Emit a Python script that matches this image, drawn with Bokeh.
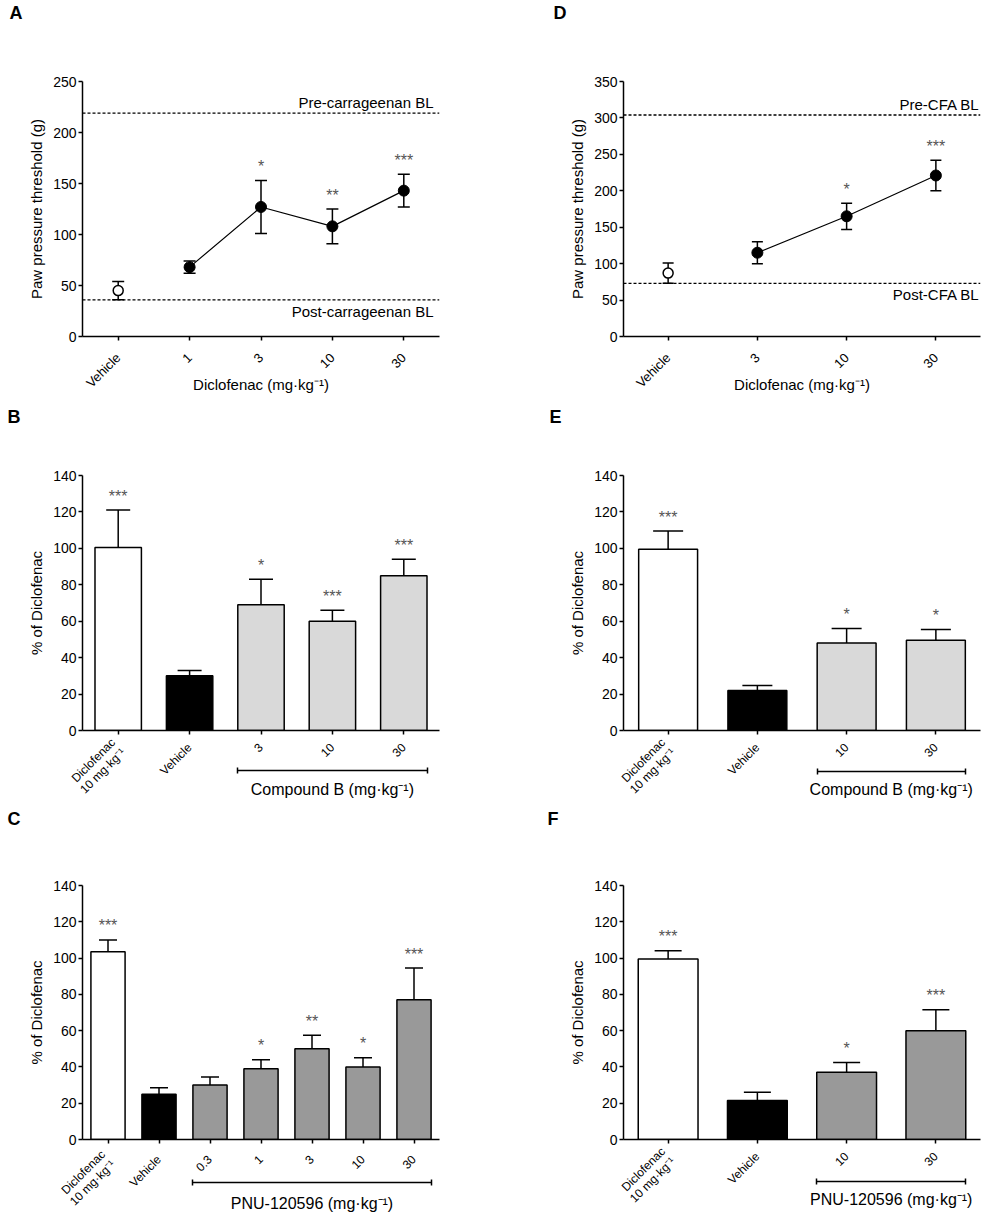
import math
from bokeh.plotting import figure
from bokeh.models import (Range1d, FixedTicker, Whisker, TeeHead, Span, LinearAxis,
                          ColumnDataSource)
from bokeh.layouts import column, row
from bokeh.embed import file_html
from bokeh.resources import INLINE
from bokeh.core.properties import value

FONT = "Liberation Sans"

# ---------------- DATA ----------------
A_labels = ["Vehicle", "1", "3", "10", "30"]
A_mean = [45, 68, 127, 108, 143]
A_sem = [9, 6, 26, 17, 16]
A_sig = ["", "", "*", "**", "***"]
A_pre_bl = 219
A_post_bl = 36

D_labels = ["Vehicle", "3", "10", "30"]
D_mean = [87, 115, 165, 221]
D_sem = [14, 15, 18, 21]
D_sig = ["", "", "*", "***"]
D_pre_bl = 304
D_post_bl = 73

B_labels = ["Diclofenac\n10 mg·kg⁻¹", "Vehicle", "3", "10", "30"]
B_mean = [100.5, 30, 69, 60, 85]
B_sem = [20.5, 3, 14, 6, 9]
B_sig = ["***", "", "*", "***", "***"]

E_labels = ["Diclofenac\n10 mg·kg⁻¹", "Vehicle", "10", "30"]
E_mean = [99.5, 22, 48, 49.5]
E_sem = [10, 2.7, 8, 6]
E_sig = ["***", "", "*", "*"]

C_labels = ["Diclofenac\n10 mg·kg⁻¹", "Vehicle", "0.3", "1", "3", "10", "30"]
C_mean = [103.5, 25, 30, 39, 50, 40, 77]
C_sem = [6.5, 3.5, 4.5, 5, 7.5, 5, 17.5]
C_sig = ["***", "", "", "*", "**", "*", "***"]

F_labels = ["Diclofenac\n10 mg·kg⁻¹", "Vehicle", "10", "30"]
F_mean = [99.5, 21.5, 37, 60]
F_sem = [4.5, 4.5, 5.5, 11.5]
F_sig = ["***", "", "*", "***"]

X_TITLE = "Diclofenac (mg·kg⁻¹)"
Y_PAW = "Paw pressure threshold (g)"
Y_PCT = "% of Diclofenac"
GROUP_B = "Compound B (mg·kg⁻¹)"
GROUP_PNU = "PNU-120596 (mg·kg⁻¹)"

# ---------------- STYLE ----------------
LIGHT = "#d9d9d9"
MID = "#999999"
B_colors = ["white", "black", LIGHT, LIGHT, LIGHT]
E_colors = ["white", "black", LIGHT, LIGHT]
C_colors = ["white", "black", MID, MID, MID, MID, MID]
F_colors = ["white", "black", MID, MID]


def style_axis(ax):
    ax.axis_line_color = "black"
    ax.axis_line_width = 1.5
    ax.major_tick_line_color = "black"
    ax.major_tick_line_width = 1.5
    ax.major_tick_in = 0
    ax.major_tick_out = 4
    ax.minor_tick_line_color = None
    ax.major_label_text_font = FONT
    ax.major_label_text_color = "black"
    ax.axis_label_text_font = FONT
    ax.axis_label_text_font_style = "normal"
    ax.axis_label_text_color = "black"
    ax.axis_label_text_font_size = "15px"


def base_fig(width, height, borders, labels, ymax, ystep, ytitle, xtitle=None, xstandoff=15):
    left, right, top, bottom = borders
    n = len(labels)
    p = figure(width=width, height=height,
               x_range=Range1d(-0.5, n - 0.5), y_range=Range1d(0, ymax),
               min_border_left=left, min_border_right=right,
               min_border_top=top, min_border_bottom=bottom,
               output_backend="svg", toolbar_location=None, tools="")
    p.xgrid.visible = False
    p.ygrid.visible = False
    p.outline_line_color = None
    p.background_fill_color = "white"
    p.border_fill_color = "white"
    style_axis(p.xaxis[0])
    style_axis(p.yaxis[0])
    yax = p.yaxis[0]
    yax.ticker = FixedTicker(ticks=list(range(0, ymax + 1, ystep)))
    yax.major_label_text_font_size = "14px"
    yax.major_label_standoff = 2
    yax.axis_label = ytitle
    yax.axis_label_standoff = 5
    xax = p.xaxis[0]
    xax.ticker = FixedTicker(ticks=list(range(n)))
    xax.major_label_overrides = {i: lab for i, lab in enumerate(labels)}
    xax.major_label_orientation = math.pi / 4
    xax.major_label_text_font_size = "13px"
    xax.major_label_text_line_height = 1.0
    xax.major_label_standoff = xstandoff
    if xtitle:
        xax.axis_label = xtitle
        xax.axis_label_standoff = -23
    return p


def letter_strip(height, letters, xs, centers):
    s = figure(width=986, height=height, x_range=Range1d(0, 986), y_range=Range1d(height, 0),
               min_border=0, x_axis_location=None, y_axis_location=None,
               output_backend="svg", toolbar_location=None, tools="")
    s.outline_line_color = None
    s.xgrid.visible = False
    s.ygrid.visible = False
    s.text(x=xs, y=centers, text=letters, text_align="left", text_baseline="middle",
           text_font=value(FONT), text_font_size="18px", text_font_style="bold",
           text_color="black")
    return s


def stars(p, idx, tops, sig):
    xs = [i for i, s in zip(idx, sig) if s]
    ys = [t for t, s in zip(tops, sig) if s]
    ts = [s for s in sig if s]
    p.text(x=xs, y=ys, text=ts, text_align="center", text_baseline="middle", y_offset=-14,
           text_font=value(FONT), text_font_size="16px", text_color="#555555")


def dose_panel(p, labels, mean, sem, sig, pre_bl, post_bl, pre_txt, post_txt, cap, txt_dx):
    n = len(labels)
    idx = list(range(n))
    lo = [m - s for m, s in zip(mean, sem)]
    hi = [m + s for m, s in zip(mean, sem)]
    for loc in (pre_bl, post_bl):
        p.add_layout(Span(location=loc, dimension="width", line_color="black",
                          line_dash="3 2", line_width=1.3))
    src = ColumnDataSource(dict(x=idx, lo=lo, hi=hi))
    p.add_layout(Whisker(source=src, base="x", lower="lo", upper="hi", line_width=1.5,
                         line_color="black",
                         lower_head=TeeHead(size=cap, line_width=1.5, line_color="black"),
                         upper_head=TeeHead(size=cap, line_width=1.5, line_color="black")))
    p.line(idx[1:], mean[1:], line_color="black", line_width=1.2)
    p.scatter(idx[1:], mean[1:], size=11, fill_color="black", line_color="black")
    p.scatter(idx[:1], mean[:1], size=10, fill_color="white", line_color="black", line_width=1.5)
    stars(p, idx, hi, sig)
    xr = n - 0.5
    p.text(x=[xr], y=[pre_bl], text=[pre_txt], text_align="right", text_baseline="bottom",
           x_offset=txt_dx, y_offset=-2, text_font=value(FONT), text_font_size="15px",
           text_color="black")
    p.text(x=[xr], y=[post_bl], text=[post_txt], text_align="right", text_baseline="top",
           x_offset=txt_dx, y_offset=3, text_font=value(FONT), text_font_size="15px",
           text_color="black")


def bar_panel(p, labels, mean, sem, sig, colors, bar_w, cap, group_txt,
              gap_bracket, gap_text, label_pull):
    n = len(labels)
    idx = list(range(n))
    hi = [m + s for m, s in zip(mean, sem)]
    src = ColumnDataSource(dict(x=idx, lo=mean, hi=hi))
    p.add_layout(Whisker(source=src, base="x", lower="lo", upper="hi", line_width=1.5,
                         line_color="black", lower_head=None,
                         upper_head=TeeHead(size=cap, line_width=1.5, line_color="black")))
    p.vbar(x=idx, top=mean, bottom=0, width=bar_w, fill_color=colors, line_color="black",
           line_width=1.5)
    stars(p, idx, hi, sig)

    # main axis: line + ticks; a blank axis label reserves the room down to the bracket
    xmain = p.xaxis[0]
    xmain.major_label_overrides = {i: "" for i in idx}
    xmain.major_label_orientation = "horizontal"
    xmain.axis_label = " "
    xmain.axis_label_text_font_size = "10px"
    xmain.axis_label_standoff = gap_bracket - 16

    # bracket under the grouped bars, with the group name centred beneath it
    g0 = idx[2] - bar_w / 2
    g1 = idx[-1] + bar_w / 2
    mid = (g0 + g1) / 2
    br = LinearAxis(bounds=(g0, g1), ticker=FixedTicker(ticks=[mid], minor_ticks=[g0, g1]),
                    major_label_overrides={mid: group_txt})
    style_axis(br)
    br.major_tick_line_color = None
    br.major_tick_out = 0
    br.minor_tick_line_color = "black"
    br.minor_tick_line_width = 1.5
    br.minor_tick_in = 3
    br.minor_tick_out = 3
    br.major_label_standoff = gap_text
    br.major_label_text_font_size = "16px"
    p.add_layout(br, "below")

    # category labels, pulled back up under the ticks
    lab = LinearAxis(ticker=FixedTicker(ticks=idx),
                     major_label_overrides={i: t for i, t in zip(idx, labels)})
    style_axis(lab)
    lab.axis_line_color = None
    lab.major_tick_line_color = None
    lab.major_tick_out = 0
    lab.major_label_orientation = math.pi / 4
    lab.major_label_text_font_size = "12px"
    lab.major_label_text_line_height = 1.0
    lab.major_label_standoff = label_pull
    p.add_layout(lab, "below")


LW, RW = 493, 493
L_LR = (82, 54)
R_LR = (130, 6)

s1 = letter_strip(24, ["A", "D"], [9, 553], [12, 12])
pA = base_fig(LW, 380, (*L_LR, 57, 68), A_labels, 250, 50, Y_PAW, X_TITLE)
dose_panel(pA, A_labels, A_mean, A_sem, A_sig, A_pre_bl, A_post_bl,
           "Pre-carrageenan BL", "Post-carrageenan BL", 12, -6)
pD = base_fig(RW, 380, (*R_LR, 57, 68), D_labels, 350, 50, Y_PAW, X_TITLE)
dose_panel(pD, D_labels, D_mean, D_sem, D_sig, D_pre_bl, D_post_bl,
           "Pre-CFA BL", "Post-CFA BL", 11, -1)

s2 = letter_strip(24, ["B", "E"], [7, 549], [12, 12])
pB = base_fig(LW, 381, (*L_LR, 47, 79), B_labels, 140, 20, Y_PCT)
bar_panel(pB, B_labels, B_mean, B_sem, B_sig, B_colors, 0.65, 24, GROUP_B, 38, 7, -55)
pE = base_fig(RW, 381, (*R_LR, 47, 79), E_labels, 140, 20, Y_PCT)
bar_panel(pE, E_labels, E_mean, E_sem, E_sig, E_colors, 0.66, 30, GROUP_B, 39, 6, -55)

s3 = letter_strip(24, ["C", "F"], [7, 547], [9, 9])
pC = base_fig(LW, 388, (*L_LR, 52, 81), C_labels, 140, 20, Y_PCT)
bar_panel(pC, C_labels, C_mean, C_sem, C_sig, C_colors, 0.67, 18, GROUP_PNU, 41, 9, -57)
pF = base_fig(RW, 388, (*R_LR, 52, 81), F_labels, 140, 20, Y_PCT)
bar_panel(pF, F_labels, F_mean, F_sem, F_sig, F_colors, 0.67, 27, GROUP_PNU, 40, 6, -56)

layout = column(s1, row(pA, pD), s2, row(pB, pE), s3, row(pC, pF))
open("out.html", "w").write(file_html(layout, INLINE))
